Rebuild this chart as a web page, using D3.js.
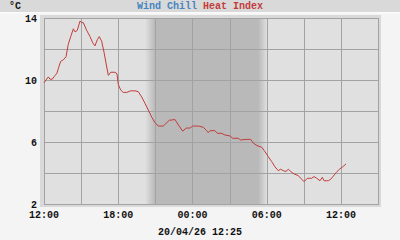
<!DOCTYPE html>
<html>
<head>
<meta charset="utf-8">
<script src="https://cdn.jsdelivr.net/npm/d3@7"></script>
<style>
  html, body { margin: 0; padding: 0; background: #f4f4f4; }
  svg { display: block; }
  text { font-family: "Liberation Mono", "DejaVu Sans Mono", monospace; font-weight: bold; font-size: 10px; }
</style>
</head>
<body>
<div id="chart"></div>
<script>
// hours after 12:00 on the first day
const hours = [0.0, 0.16, 0.35, 0.49, 0.67, 0.89, 1.03, 1.16, 1.35, 1.56, 1.78, 1.96, 2.16, 2.37, 2.51, 2.69,
  2.91, 3.05, 3.18, 3.45, 3.72, 3.94, 4.12, 4.31, 4.47, 4.66, 4.85, 5.01, 5.20, 5.39, 5.74, 5.90,
  6.01, 6.20, 6.41, 6.69, 7.01, 7.36, 7.62, 7.90, 8.16, 8.43, 8.71, 8.97, 9.24, 9.64, 9.86, 10.13,
  10.59, 10.86, 11.21, 11.50, 11.80, 12.02, 12.47, 12.88, 13.15, 13.28, 13.42, 13.82, 14.01, 14.37,
  14.63, 15.04, 15.25, 15.71, 15.90, 16.33, 16.71, 16.92, 17.22, 17.60, 17.87, 18.13, 18.41, 18.67,
  18.94, 19.13, 19.35, 19.56, 19.75, 19.94, 20.21, 20.56, 20.83, 21.02, 21.29, 21.64, 21.83, 22.05,
  22.31, 22.50, 22.64, 22.98, 23.18, 23.39, 23.61, 23.87, 24.15, 24.41];
const heatIndex = [9.83, 10.0, 10.2, 10.05, 10.05, 10.3, 10.4, 10.75, 11.2, 11.3, 11.5, 12.3, 12.8, 13.3, 13.1, 13.2,
  13.8, 13.7, 13.7, 13.2, 12.8, 12.4, 12.2, 12.6, 12.8, 12.5, 11.8, 11.1, 10.3, 10.5, 10.5, 10.4,
  9.7, 9.35, 9.2, 9.2, 9.3, 9.3, 9.25, 8.9, 8.5, 8.06, 7.6, 7.25, 7.03, 7.03, 7.2, 7.4,
  7.45, 7.1, 6.7, 6.9, 6.9, 7.03, 7.03, 6.95, 6.73, 6.6, 6.73, 6.73, 6.56, 6.56,
  6.45, 6.39, 6.24, 6.24, 6.13, 6.17, 6.17, 5.93, 5.77, 5.66, 5.37, 5.05, 4.73, 4.4,
  4.15, 4.24, 4.15, 4.1, 4.24, 4.1, 3.94, 3.83, 3.6, 3.44, 3.66, 3.66, 3.77, 3.66,
  3.5, 3.72, 3.5, 3.5, 3.6, 3.8, 4.02, 4.24, 4.4, 4.58];
const yTicks = [2, 4, 6, 8, 10, 12, 14];
const yLabels = [2, 6, 10, 14];
// night: dusk start, dark, dawn start, light (hours after 12:00)
const night = [8.17, 8.98, 17.31, 18.04];
const title = [["Wind Chill", "#4585c2"], ["Heat Index", "#c23c3c"]];
const unit = "°C";
const stamp = "20/04/26 12:25";

const W = 400, H = 240;
const t0 = new Date(2026, 3, 19, 12, 0);
const toDate = h => new Date(t0.getTime() + h * 3600e3);

const x = d3.scaleTime().domain([t0, toDate(27)]).range([44, 378]);
const y = d3.scaleLinear().domain([2, 14]).range([204, 18]);

const svg = d3.select("#chart").append("svg")
  .attr("width", W).attr("height", H)
  .style("background", "#f4f4f4");

// header strip
svg.append("rect").attr("x", 0).attr("y", 0).attr("width", W).attr("height", 12).attr("fill", "#d9d9d9");
svg.append("rect").attr("x", 0).attr("y", 12).attr("width", W).attr("height", 1.5).attr("fill", "#fbfbfb");

// frame around plot
svg.append("rect").attr("x", 40).attr("y", 15).attr("width", 341).attr("height", 192).attr("fill", "#d9d9d9");

// night shading gradient
const grad = svg.append("defs").append("linearGradient")
  .attr("id", "nightGrad").attr("gradientUnits", "userSpaceOnUse")
  .attr("x1", x.range()[0]).attr("x2", x.range()[1]).attr("y1", 0).attr("y2", 0);
const span = x.range()[1] - x.range()[0];
const light = "#e0e0e0", dark = "#b9b9b9";
[[0, light], [night[0], light], [night[1], dark], [night[2], dark], [night[3], light], [27, light]]
  .forEach(([h, c]) => grad.append("stop")
    .attr("offset", (x(toDate(h)) - x.range()[0]) / span)
    .attr("stop-color", c));

svg.append("rect")
  .attr("x", x.range()[0]).attr("y", y(14))
  .attr("width", span).attr("height", y(2) - y(14))
  .attr("fill", "url(#nightGrad)");

// grid
const xTicks = d3.range(0, 28, 3).map(toDate);
svg.append("g").selectAll("line").data(xTicks).enter().append("line")
  .attr("x1", d => Math.round(x(d)) + 0.5).attr("x2", d => Math.round(x(d)) + 0.5)
  .attr("y1", y(14)).attr("y2", y(2))
  .attr("stroke", "#a2a2a2").attr("stroke-width", 1);
svg.append("g").selectAll("line").data(yTicks).enter().append("line")
  .attr("x1", x.range()[0]).attr("x2", x.range()[1] + 1)
  .attr("y1", d => Math.round(y(d)) + 0.5).attr("y2", d => Math.round(y(d)) + 0.5)
  .attr("stroke", "#a2a2a2").attr("stroke-width", 1);

// y labels
svg.append("g").selectAll("text").data(yLabels).enter().append("text")
  .attr("x", 37).attr("y", d => y(d) + 3.5)
  .attr("text-anchor", "end").attr("fill", "#111")
  .text(d => d);

// x labels
const fmt = d3.timeFormat("%H:%M");
svg.append("g").selectAll("text").data(d3.range(0, 25, 6).map(toDate)).enter().append("text")
  .attr("x", d => x(d)).attr("y", 218)
  .attr("text-anchor", "middle").attr("fill", "#111")
  .text(d => fmt(d));

// line
const line = d3.line()
  .x((d, i) => x(toDate(hours[i])))
  .y(d => y(d));
svg.append("path").datum(heatIndex)
  .attr("d", line)
  .attr("fill", "none")
  .attr("stroke", "#c23c3c")
  .attr("stroke-width", 1);

// title
const tt = svg.append("text").attr("x", 200).attr("y", 9).attr("text-anchor", "middle");
title.forEach(([s, c], i) => tt.append("tspan").attr("fill", c).text((i ? " " : "") + s));

svg.append("text").attr("x", 9).attr("y", 9).attr("fill", "#111").text(unit);
svg.append("text").attr("x", 200).attr("y", 235).attr("text-anchor", "middle").attr("fill", "#111").text(stamp);
</script>
</body>
</html>
